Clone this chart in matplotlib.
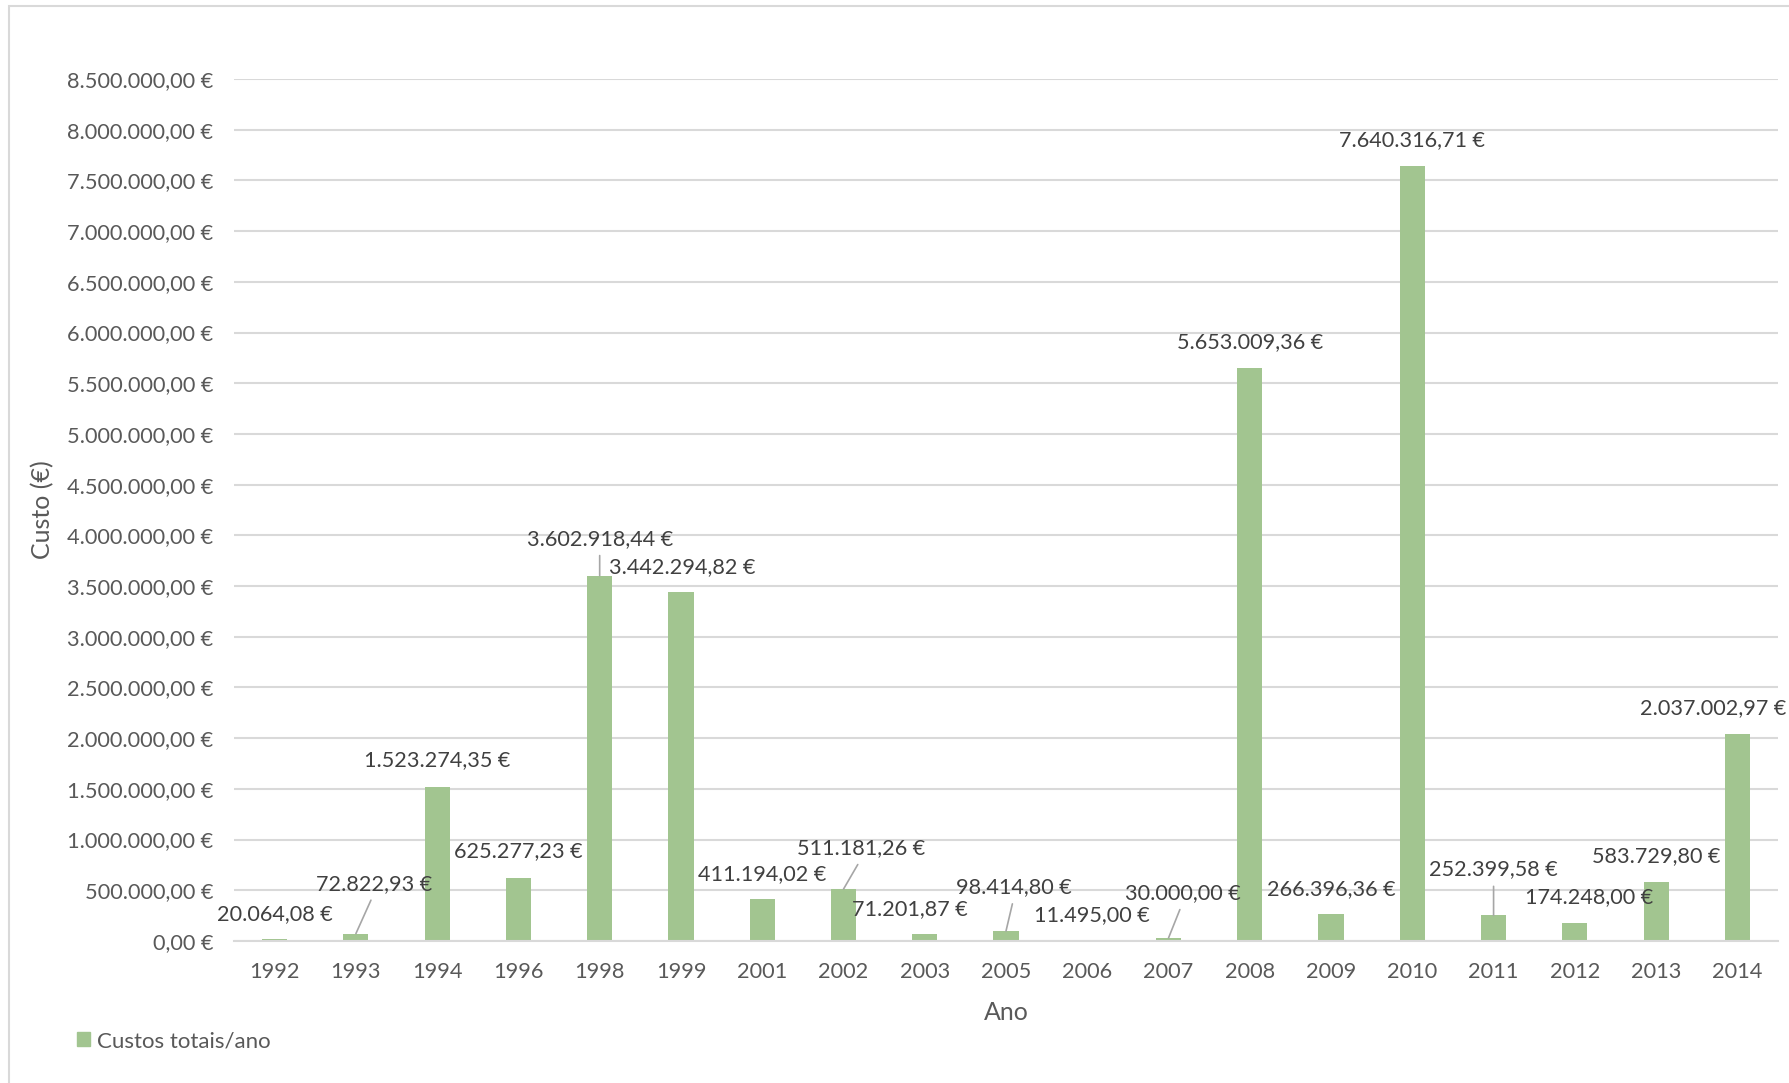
import matplotlib
matplotlib.use("Agg")
import matplotlib.pyplot as plt
from matplotlib.patches import Patch, Rectangle

plt.rcParams['font.family'] = ['Lato', 'DejaVu Sans']

# yearly totals
anos = ['1992', '1993', '1994', '1996', '1998', '1999', '2001', '2002', '2003', '2005',
        '2006', '2007', '2008', '2009', '2010', '2011', '2012', '2013', '2014']
custos = [20064.08, 72822.93, 1523274.35, 625277.23, 3602918.44, 3442294.82, 411194.02,
          511181.26, 71201.87, 98414.80, 11495.00, 30000.00, 5653009.36, 266396.36,
          7640316.71, 252399.58, 174248.00, 583729.80, 2037002.97]

# where each value label sits, relative to the top of its bar (pixels), and
# whether it gets a leader line
label_offsets = [(0, 25), (18, 50), (0, 26), (0, 26), (0, 37), (1, 25), (0, 25),
                 (18, 41), (-15, 25), (8, 44), (5, 25), (14, 45), (0, 26), (0, 25),
                 (0, 26), (0, 46), (14, 26), (0, 26), (-24, 26)]
leaders = [False, True, False, False, True, False, False, True, False, True,
           False, True, False, False, False, True, False, False, False]

ytick_vals = [i * 500000 for i in range(18)]

bar_color = '#A2C590'
grid_color = '#D9D9D9'
tick_color = '#595959'
label_color = '#404040'


def fmt_eur(v):
    s = f"{v:,.2f}".replace(',', 'X').replace('.', ',').replace('X', '.')
    return s + ' €'


fig = plt.figure(figsize=(17.89, 10.83), dpi=100)
ax = fig.add_axes([234 / 1789, 1 - 941 / 1083, 1544 / 1789, 862 / 1083])

x = list(range(len(anos)))
ax.bar(x, custos, width=0.31, color=bar_color, zorder=2)

ax.set_xlim(-0.5, len(anos) - 0.5)
ax.set_ylim(0, 8500000)
ax.set_yticks(ytick_vals)
ax.set_yticklabels([fmt_eur(v) for v in ytick_vals])
ax.set_xticks(x)
ax.set_xticklabels(anos)
ax.tick_params(axis='both', length=0, labelsize=15.7, colors=tick_color)
ax.tick_params(axis='x', pad=15)
ax.tick_params(axis='y', pad=15)

ax.grid(axis='y', color=grid_color, linewidth=1.5, zorder=0)
for side in ['left', 'right', 'top']:
    ax.spines[side].set_visible(False)
ax.spines['bottom'].set_color(grid_color)
ax.spines['bottom'].set_linewidth(1.5)

ax.set_xlabel('Ano', fontsize=18, color=tick_color, labelpad=14)
ax.set_ylabel('Custo (€)', fontsize=18, color=tick_color)
ax.yaxis.set_label_coords(-0.1166, 0.5)

# value labels
for i, v in enumerate(custos):
    dx, dy = label_offsets[i]
    props = None
    if leaders[i]:
        props = dict(arrowstyle='-', color='#A6A6A6', lw=1.2, relpos=(0.5, 0.0),
                     shrinkA=3, shrinkB=0)
    ax.annotate(fmt_eur(v), xy=(i, v), xytext=(dx, dy), textcoords='offset pixels',
                ha='center', va='center', fontsize=15.6, color=label_color,
                arrowprops=props, zorder=3)

fig.legend(handles=[Patch(color=bar_color, label='Custos totais/ano')],
           loc='center left', bbox_to_anchor=(77 / 1789, 1 - 1041 / 1083),
           frameon=False, fontsize=16, handlelength=0.6, handleheight=0.6,
           handletextpad=0.3, borderpad=0, borderaxespad=0, labelcolor=tick_color)

# chart area border
fig.patches.append(Rectangle((9 / 1789, -0.05), 1.1, 1 - 6 / 1083 + 0.05,
                             transform=fig.transFigure, fill=False,
                             edgecolor='#D9D9D9', linewidth=1.5))

fig.savefig('out.png', dpi=100)
